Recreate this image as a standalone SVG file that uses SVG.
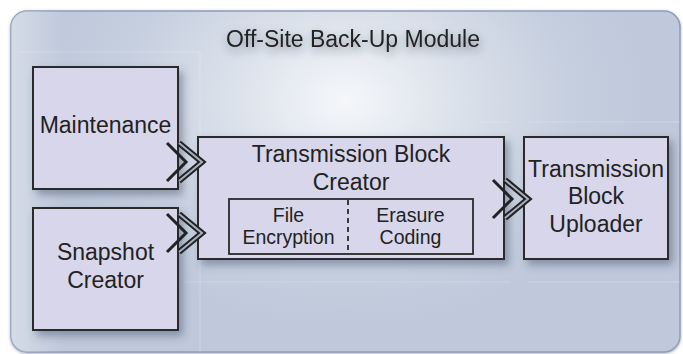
<svg xmlns="http://www.w3.org/2000/svg" width="683" height="354" viewBox="0 0 683 354">
  <defs>
    <radialGradient id="bg" cx="345" cy="100" r="300" gradientUnits="userSpaceOnUse" gradientTransform="translate(345 100) scale(1 0.75) translate(-345 -100)">
      <stop offset="0" stop-color="#f5f7fa"/>
      <stop offset="0.35" stop-color="#dde3ec"/>
      <stop offset="0.75" stop-color="#c6cfdf"/>
      <stop offset="1" stop-color="#bfc9db"/>
    </radialGradient>
    <linearGradient id="edge" x1="0" y1="0" x2="1" y2="0">
      <stop offset="0" stop-color="#ffffff" stop-opacity="0.35"/>
      <stop offset="0.08" stop-color="#ffffff" stop-opacity="0"/>
      <stop offset="1" stop-color="#ffffff" stop-opacity="0"/>
    </linearGradient>
    <filter id="shadow" x="-20%" y="-20%" width="150%" height="150%">
      <feDropShadow dx="4" dy="5" stdDeviation="4" flood-color="#3a4560" flood-opacity="0.45"/>
    </filter>
    <filter id="frameshadow" x="-5%" y="-5%" width="110%" height="115%">
      <feDropShadow dx="0" dy="1" stdDeviation="1.5" flood-color="#555f77" flood-opacity="0.5"/>
    </filter>
    <filter id="textshadow" x="-10%" y="-50%" width="120%" height="250%">
      <feDropShadow dx="1" dy="4" stdDeviation="4" flood-color="#2a3040" flood-opacity="0.5"/>
    </filter>
    <g id="chev">
      <polyline points="-35,-19 -16,0 -35,19" fill="none" stroke="#222222" stroke-width="3"/>
      <polyline points="-23,-19 0,0 -23,19" fill="none" stroke="#222222" stroke-width="6"/>
      <polyline points="-23,-19 0,0 -23,19" fill="none" stroke="#a9afc3" stroke-width="2"/>
    </g>
  </defs>
  <style>
    .box { fill: #d8d6ea; stroke: #2b2b2b; stroke-width: 2; }
    .inner { fill: #d8d6ea; stroke: #2b2b2b; stroke-width: 1.8; }
    .t { font-family: "Liberation Sans", Arial, sans-serif; font-size: 23px; fill: #222222; text-anchor: middle; }
    .s { font-family: "Liberation Sans", Arial, sans-serif; font-size: 19.5px; fill: #222222; text-anchor: middle; }
    .grid { stroke: #ffffff; stroke-opacity: 0.22; stroke-width: 1; fill: none; }
  </style>

  <g id="frame">
    <rect x="11" y="11" width="669" height="341" rx="16" fill="url(#bg)" stroke="#8e9dba" stroke-width="1.5" filter="url(#frameshadow)"/>
    <rect x="11" y="11" width="669" height="341" rx="16" fill="url(#edge)"/>
    <path class="grid" d="M19,52 H200 V352 M183,282 H510 M528,282 H680 M480,122 H508 M528,122 H680"/>
    <text class="t" x="353" y="47" filter="url(#textshadow)">Off-Site Back-Up Module</text>
  </g>

  <g id="maintenance">
    <rect class="box" x="33" y="67" width="145" height="122" filter="url(#shadow)"/>
    <text class="t" x="105.5" y="133">Maintenance</text>
  </g>

  <g id="snapshot-creator">
    <rect class="box" x="33" y="208" width="145" height="122" filter="url(#shadow)"/>
    <text class="t" x="105.5" y="260">Snapshot</text>
    <text class="t" x="105.5" y="288">Creator</text>
  </g>

  <g id="transmission-block-creator">
    <rect class="box" x="198" y="137" width="306" height="122" filter="url(#shadow)"/>
    <text class="t" x="351" y="162">Transmission Block</text>
    <text class="t" x="351" y="190">Creator</text>
    <g id="inner">
      <rect class="inner" x="229" y="199" width="244" height="55"/>
      <line x1="348" y1="200" x2="348" y2="253" stroke="#2b2b2b" stroke-width="1.8" stroke-dasharray="5,4"/>
      <text class="s" x="288.5" y="222">File</text>
      <text class="s" x="288.5" y="244">Encryption</text>
      <text class="s" x="410.5" y="222">Erasure</text>
      <text class="s" x="410.5" y="244">Coding</text>
    </g>
  </g>

  <g id="transmission-block-uploader">
    <rect class="box" x="524" y="137" width="144" height="122" filter="url(#shadow)"/>
    <text class="t" x="596" y="177">Transmission</text>
    <text class="t" x="596" y="204">Block</text>
    <text class="t" x="596" y="232">Uploader</text>
  </g>

  <g id="connectors">
    <use href="#chev" x="202" y="162"/>
    <use href="#chev" x="202" y="233"/>
    <use href="#chev" x="528" y="199"/>
  </g>
</svg>
